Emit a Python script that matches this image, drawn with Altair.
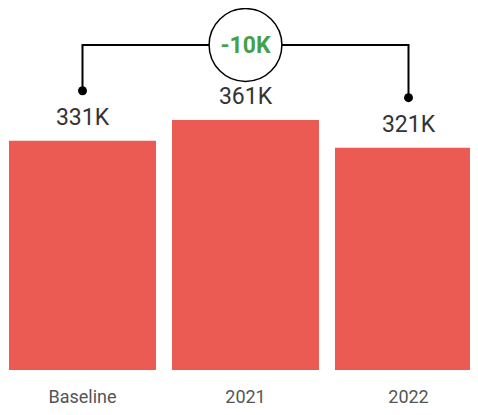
import altair as alt
import pandas as pd

categories = ["Baseline", "2021", "2022"]
values = [331000, 361000, 321000]
bar_color = "#EB5A53"

labels = [f"{round(v / 1000)}K" for v in values]
diff = values[2] - values[0]
diff_label = f"{round(diff / 1000)}K"

H = 362
W = 462
D = max(values) * H / 250  # y domain max
px = D / H

df = pd.DataFrame({"cat": categories, "value": values, "label": labels})

xscale = alt.Scale(domain=categories, range=[1, 474], paddingInner=16 / 163, paddingOuter=0)
yscale = alt.Scale(domain=[0, D], nice=False)
x_enc = alt.X("cat:N", scale=xscale, sort=categories,
              axis=alt.Axis(title=None, domain=False, ticks=False, labelAngle=0,
                            labelFontSize=18, labelColor="#555555", labelFont="Roboto",
                            labelBaseline="alphabetic", labelPadding=32))

bars = alt.Chart(df).mark_bar(color=bar_color, clip=True).encode(
    x=x_enc,
    y=alt.Y("value:Q", scale=yscale, axis=None),
)

text = alt.Chart(df).mark_text(dy=-16, baseline="alphabetic", fontSize=23, font="Roboto",
                               color="#333333").encode(
    x=alt.X("cat:N", scale=xscale, sort=categories),
    y=alt.Y("value:Q", scale=yscale),
    text="label:N",
)

top = max(values) + 75 * px
first, last = categories[0], categories[-1]
bracket_df = pd.DataFrame({
    "cat": [first, first, last, last],
    "y": [values[0] + 50 * px, top, top, values[-1] + 50 * px],
    "order": [0, 1, 2, 3],
})
bracket = alt.Chart(bracket_df).mark_line(color="black", strokeWidth=2).encode(
    x=alt.X("cat:N", scale=xscale, sort=categories),
    y=alt.Y("y:Q", scale=yscale),
    order="order:Q",
)
dots_df = pd.DataFrame({"cat": [first, last], "y": [values[0] + 50 * px, values[-1] + 50 * px]})
dots = alt.Chart(dots_df).mark_circle(color="black", size=80, opacity=1).encode(
    x=alt.X("cat:N", scale=xscale, sort=categories),
    y=alt.Y("y:Q", scale=yscale),
)
badge_df = pd.DataFrame({"cat": [categories[1]], "y": [top], "label": [diff_label]})
badge = alt.Chart(badge_df).mark_point(shape="circle", size=5300, filled=True, fill="white",
                                       stroke="black", strokeWidth=1.5, opacity=1).encode(
    x=alt.X("cat:N", scale=xscale, sort=categories),
    y=alt.Y("y:Q", scale=yscale),
)
badge_text = alt.Chart(badge_df).mark_text(fontSize=23, fontWeight="bold", font="Roboto",
                                           color="#45A04A", baseline="middle", dy=1).encode(
    x=alt.X("cat:N", scale=xscale, sort=categories),
    y=alt.Y("y:Q", scale=yscale),
    text="label:N",
)

chart = alt.layer(bars, text, bracket, dots, badge, badge_text).properties(
    width=W, height=H,
    autosize=alt.AutoSizeParams(type="none"),
    padding={"left": 0, "top": 0, "right": 0, "bottom": 37},
).configure_view(stroke=None)

chart.save("out.html", embed_options={"renderer": "svg", "actions": False})
